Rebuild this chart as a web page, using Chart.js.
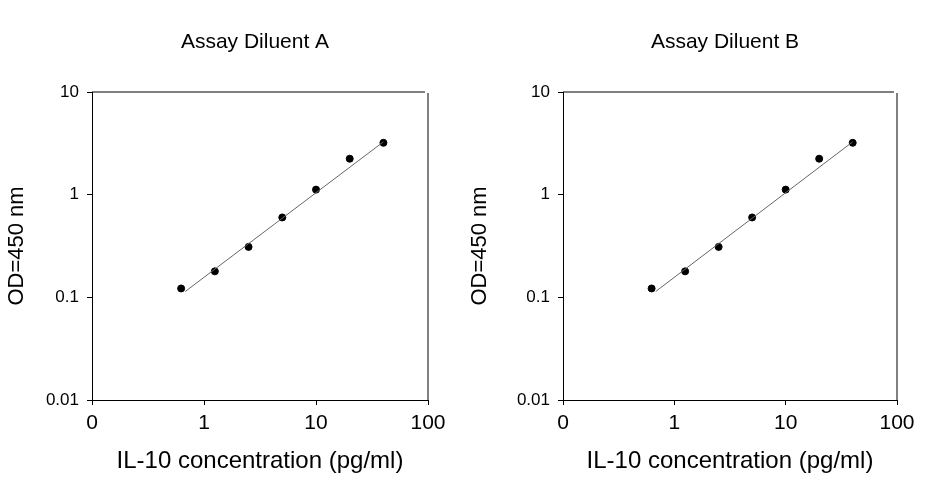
<!DOCTYPE html>
<html>
<head>
<meta charset="utf-8">
<script src="https://cdn.jsdelivr.net/npm/chart.js@4/dist/chart.umd.min.js"></script>
<style>
  body { margin: 0; background: #fff; }
  .panel { position: absolute; top: 0; width: 463px; height: 480px; }
</style>
</head>
<body>
<div class="panel" style="left:0"><canvas id="chartA"></canvas></div>
<div class="panel" style="left:463px"><canvas id="chartB"></canvas></div>
<script>
const panelTitles = ["Assay Diluent A", "Assay Diluent B"];
const concentrations = [0.625, 1.25, 2.5, 5, 10, 20, 40];
const odA = [0.122, 0.179, 0.31, 0.6, 1.12, 2.24, 3.2];
const odB = [0.122, 0.179, 0.31, 0.6, 1.12, 2.24, 3.2];
const fitX = [0.68, 40];
const fitY = [0.114, 3.27];
const xTicks = [0.1, 1, 10, 100];
const xTickLabels = ["0", "1", "10", "100"];
const yTicks = [0.01, 0.1, 1, 10];
const yTickLabels = ["0.01", "0.1", "1", "10"];
const FONT = "'Liberation Sans', Arial, sans-serif";

const framePlugin = {
  id: "frame",
  afterDraw(chart) {
    const { ctx, chartArea: a } = chart;
    ctx.save();
    ctx.strokeStyle = "#000";
    ctx.lineWidth = 1;
    ctx.beginPath();
    ctx.moveTo(a.left, a.top); ctx.lineTo(a.right - 3, a.top);
    ctx.moveTo(a.right, a.top + 1); ctx.lineTo(a.right, a.bottom);
    ctx.stroke();
    ctx.fillStyle = "#000";
    ctx.font = "21px " + FONT;
    ctx.textAlign = "center";
    ctx.fillText(chart.options.plugins.frame.title, (a.left + a.right) / 2 - 5, 48);
    ctx.restore();
  }
};

function makeChart(id, title, od, yWidth, rightPad) {
  return new Chart(document.getElementById(id), {
    type: "scatter",
    data: {
      datasets: [
        {
          type: "line",
          data: fitX.map((x, i) => ({ x: x, y: fitY[i] })),
          borderColor: "#666",
          borderWidth: 1,
          pointRadius: 0
        },
        {
          data: concentrations.map((x, i) => ({ x: x, y: od[i] })),
          backgroundColor: "#000",
          borderColor: "#000",
          pointRadius: 3.5
        }
      ]
    },
    options: {
      responsive: false,
      animation: false,
      layout: { padding: { top: 92, right: rightPad, left: 0, bottom: 0 } },
      plugins: { legend: { display: false }, tooltip: { enabled: false }, frame: { title: title } },
      scales: {
        x: {
          type: "logarithmic", min: 0.1, max: 100,
          afterBuildTicks: s => { s.ticks = xTicks.map(v => ({ value: v })); },
          afterFit: s => { s.height = 80; },
          ticks: {
            color: "#000", font: { size: 21, family: FONT }, padding: 6,
            autoSkip: false, maxRotation: 0,
            callback: v => xTickLabels[xTicks.indexOf(v)]
          },
          grid: { drawOnChartArea: false, tickLength: 5, color: "#000" },
          border: { color: "#000" },
          title: { display: true, text: "IL-10 concentration (pg/ml)", color: "#000", font: { size: 24, family: FONT }, padding: { top: 8 } }
        },
        y: {
          type: "logarithmic", min: 0.01, max: 10,
          afterBuildTicks: s => { s.ticks = yTicks.map(v => ({ value: v })); },
          afterFit: s => { s.width = yWidth; },
          ticks: {
            color: "#000", font: { size: 17, family: FONT }, padding: 8, autoSkip: false,
            callback: v => yTickLabels[yTicks.indexOf(v)]
          },
          grid: { drawOnChartArea: false, tickLength: 5, color: "#000" },
          border: { color: "#000" },
          title: { display: true, text: "OD=450 nm", color: "#000", font: { size: 22, family: FONT }, padding: { bottom: 4 } }
        }
      }
    },
    plugins: [framePlugin]
  });
}

function sizeCanvas(id) {
  const c = document.getElementById(id);
  c.width = 463; c.height = 480;
}
sizeCanvas("chartA"); sizeCanvas("chartB");
makeChart("chartA", panelTitles[0], odA, 92, 35);
makeChart("chartB", panelTitles[1], odB, 100, 29);
</script>
</body>
</html>
